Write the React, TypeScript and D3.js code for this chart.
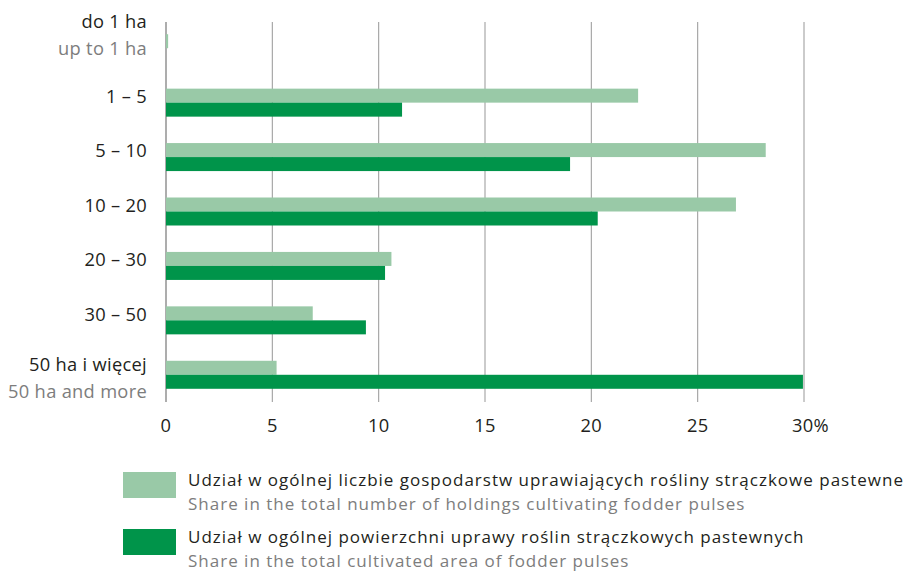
import React from "react";
import * as d3 from "d3";

const categoriesPL = ["do 1 ha", "1 – 5", "5 – 10", "10 – 20", "20 – 30", "30 – 50", "50 ha i więcej"];
const categoriesEN = ["up to 1 ha", "", "", "", "", "", "50 ha and more"];
const holdingsShare = [0.1, 22.2, 28.2, 26.8, 10.6, 6.9, 5.2];
const areaShare = [0, 11.1, 19.0, 20.3, 10.3, 9.4, 29.95];
const xTicks = [0, 5, 10, 15, 20, 25, 30];
const legendPL = [
  "Udział w ogólnej liczbie gospodarstw uprawiających rośliny strączkowe pastewne",
  "Udział w ogólnej powierzchni uprawy roślin strączkowych pastewnych",
];
const legendEN = [
  "Share in the total number of holdings cultivating fodder pulses",
  "Share in the total cultivated area of fodder pulses",
];

const LIGHT = "#99c9a7";
const DARK = "#00944a";
const TEXT = "#231f20";
const GREY_TEXT = "#7d7d7d";
const FONT = "'Open Sans', 'Noto Sans', sans-serif";
const FS = 18.3;
const LS = 0.3;
const LEG_FS = 17;
const LEG_LS = 1.0;

export default function App() {
  const W = 913, H = 571;
  const x = d3.scaleLinear().domain([0, 30]).range([166, 804]);
  const y = d3.scaleBand<number>().domain(d3.range(categoriesPL.length)).range([21, 402]).paddingInner(0).paddingOuter(0);
  const barH = 14;
  const gridTop = 22, gridBottom = 402;
  const legendColors = [LIGHT, DARK];

  return (
    <svg width={W} height={H} style={{ position: "absolute", left: 0, top: 0, fontFamily: FONT, letterSpacing: LS }}>
      {xTicks.map((t) => (
        <line key={"g" + t} x1={x(t)} x2={x(t)} y1={gridTop} y2={gridBottom}
          stroke={t === 0 ? "#6a6a6a" : "#a0a0a0"} strokeWidth={1.1} />
      ))}
      {categoriesPL.map((c, i) => {
        const cy = (y(i) as number) + y.bandwidth() / 2;
        return (
          <g key={c}>
            <rect x={x(0)} y={cy - barH} width={x(holdingsShare[i]) - x(0)} height={barH} fill={LIGHT} />
            <rect x={x(0)} y={cy} width={x(areaShare[i]) - x(0)} height={barH} fill={DARK} />
          </g>
        );
      })}
      {categoriesPL.map((c, i) => {
        const cy = (y(i) as number) + y.bandwidth() / 2;
        const en = categoriesEN[i];
        const first = i === 0;
        const l1 = en ? (first ? cy - 27 : cy - 10) : cy - 6;
        const l2 = first ? cy : cy + 17;
        return (
          <g key={"l" + c} fontSize={FS} textAnchor="end">
            <text x={147} y={l1} dy="0.35em" fill={TEXT}>{c}</text>
            {en && <text x={147} y={l2} dy="0.35em" fill={GREY_TEXT}>{en}</text>}
          </g>
        );
      })}
      {xTicks.map((t) => (
        <text key={"t" + t} x={x(t)} y={426} dy="0.35em" fontSize={FS} fill={TEXT}
          textAnchor={t === 30 ? "start" : "middle"} dx={t === 30 ? -12 : 0}>
          {t === 30 ? "30%" : String(t)}
        </text>
      ))}
      {legendPL.map((l, i) => {
        const top = 472 + i * 57;
        return (
          <g key={"lg" + i} fontSize={LEG_FS} letterSpacing={LEG_LS}>
            <text x={188} y={top + 8.5} dy="0.35em" fill={TEXT}>{l}</text>
            <rect x={123} y={top} width={53} height={26} fill={legendColors[i]} />
            <text x={188} y={top + 32} dy="0.35em" fill={GREY_TEXT}>{legendEN[i]}</text>
          </g>
        );
      })}
    </svg>
  );
}
